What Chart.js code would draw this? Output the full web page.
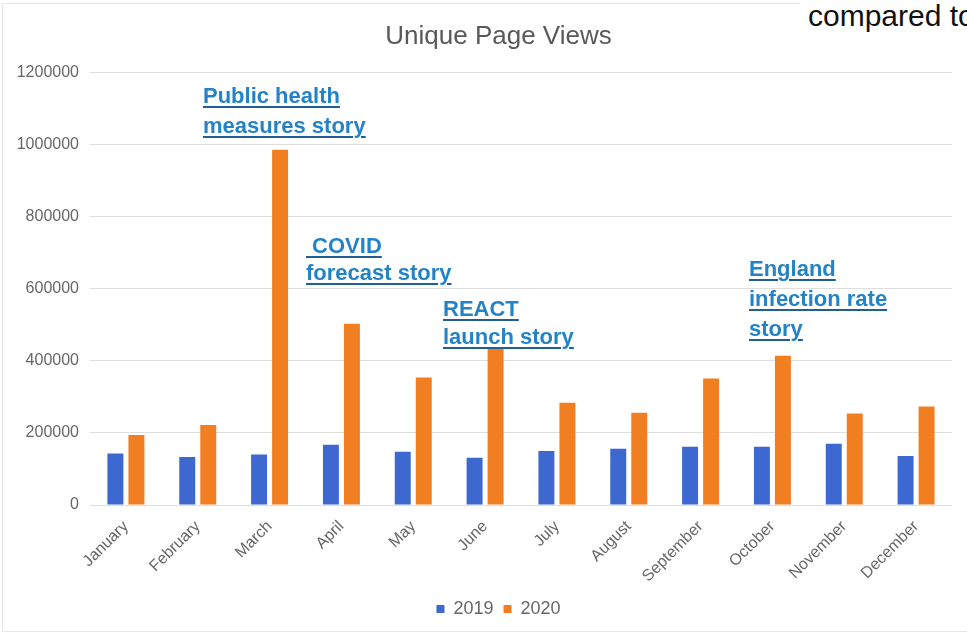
<!DOCTYPE html>
<html>
<head>
<meta charset="utf-8">
<script src="https://cdn.jsdelivr.net/npm/chart.js@4/dist/chart.umd.min.js"></script>
<style>
    html, body { margin: 0; padding: 0; background: #fff; overflow: hidden; }
    #wrap { position: relative; width: 967px; height: 633px; }
    #frame { position: absolute; left: 2px; top: 3px; width: 1000px; height: 627px; border: 1px solid #e6e6e6; }
    #chart { position: absolute; left: 0; top: 0; }
    .note {
        position: absolute;
        font-family: 'Liberation Sans', Arial, sans-serif;
        font-size: 22px;
        font-weight: bold;
        color: #2383c6;
        text-decoration: underline;
        text-decoration-color: #1f5f96;
        text-decoration-thickness: 2px;
        text-underline-offset: 3px;
        white-space: nowrap;
    }
    #compared {
        position: absolute; left: 800px; top: -1px; padding-left: 8px;
        font-family: 'Liberation Sans', Arial, sans-serif;
        font-size: 30px; line-height: 34px; color: #111; background: #fff;
        white-space: nowrap;
    }
</style>
</head>
<body>
<div id="wrap">
    <div id="frame"></div>
    <canvas id="chart" width="967" height="633"></canvas>
    <div id="compared">compared to</div>
    <div class="note" style="left:203px; top:81px; line-height:30px;">Public health<br>measures story</div>
    <div class="note" style="left:306px; top:232px; line-height:27px;">&nbsp;COVID<br>forecast story</div>
    <div class="note" style="left:443px; top:295px; line-height:28px;">REACT<br>launch story</div>
    <div class="note" style="left:749px; top:254px; line-height:30px;">England<br>infection rate<br>story</div>
</div>
<script>
var months = ['January', 'February', 'March', 'April', 'May', 'June',
    'July', 'August', 'September', 'October', 'November', 'December'];
var views2019 = [143000, 133000, 140000, 167000, 148000, 131000, 150000, 156000, 162000, 162000, 170000, 136000];
var views2020 = [194000, 222000, 985000, 503000, 354000, 435000, 284000, 256000, 351000, 414000, 254000, 273000];
var yTicks = [0, 200000, 400000, 600000, 800000, 1000000, 1200000];

var blue = '#3c68d0';
var orange = '#f17f22';
var grey = '#666666';
var font = "'Liberation Sans', Arial, sans-serif";

Chart.defaults.font.family = font;

// the y axis box is kept narrow so the title sits where it does in the original;
// widen its label clip area after layout so the long tick labels are not cut
var widenYLabels = {
    id: 'widenYLabels',
    afterLayout: function (chart) {
        chart.scales.y.left = 0;
    }
};

new Chart(document.getElementById('chart'), {
    type: 'bar',
    data: {
        labels: months,
        datasets: [
            {label: '2019', data: views2019, backgroundColor: blue},
            {label: '2020', data: views2020, backgroundColor: orange}
        ]
    },
    plugins: [widenYLabels],
    options: {
        responsive: false,
        animation: false,
        categoryPercentage: 0.585,
        barPercentage: 0.76,
        layout: {padding: {left: 45, right: 15, top: 3, bottom: 5}},
        plugins: {
            title: {
                display: true,
                text: 'Unique Page Views',
                color: '#595959',
                font: {size: 26, weight: 'normal'},
                padding: {top: 18, bottom: 20}
            },
            legend: {
                position: 'bottom',
                labels: {boxWidth: 8, boxHeight: 8, color: grey, font: {size: 18}, padding: 10}
            },
            tooltip: {enabled: false}
        },
        scales: {
            x: {
                grid: {display: false},
                border: {display: false},
                ticks: {color: grey, font: {size: 16}, minRotation: 45, maxRotation: 45, padding: 4}
            },
            y: {
                min: yTicks[0],
                max: yTicks[yTicks.length - 1],
                afterBuildTicks: function (scale) {
                    scale.ticks = yTicks.map(function (v) { return {value: v}; });
                },
                afterFit: function (scale) { scale.width = 45; },
                grid: {color: '#dedede', lineWidth: 1, drawTicks: false},
                border: {display: false},
                ticks: {
                    color: grey,
                    font: {size: 16},
                    padding: 11,
                    callback: function (v) { return String(v); }
                }
            }
        }
    }
});
</script>
</body>
</html>
